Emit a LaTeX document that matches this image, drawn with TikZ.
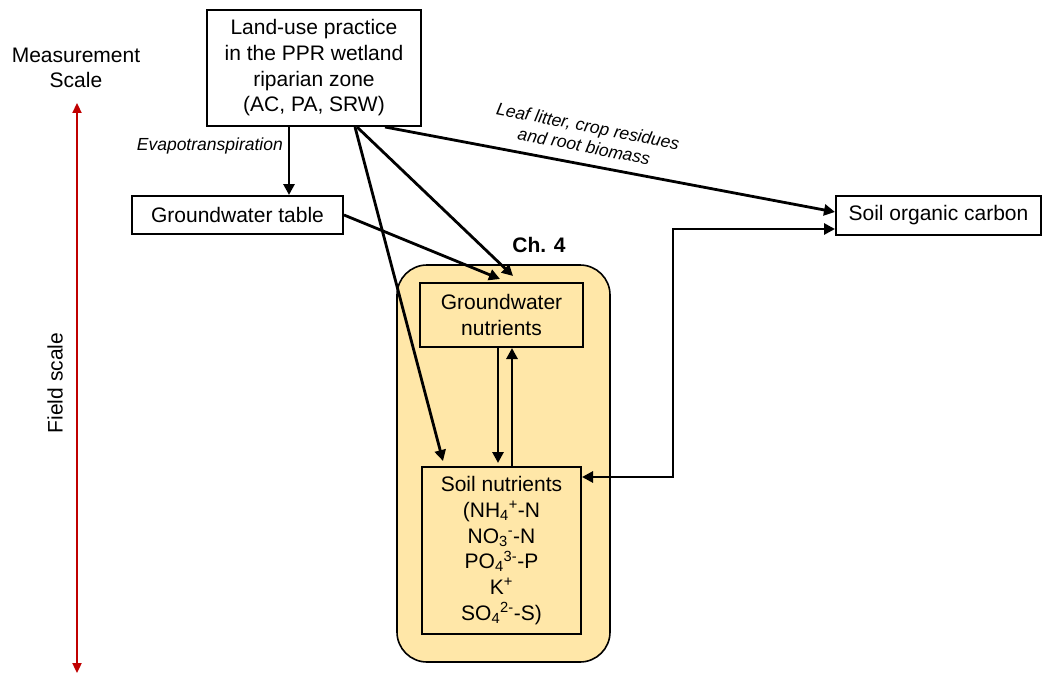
\documentclass[tikz,border=0pt]{standalone}
\usepackage{fontspec}
\setmainfont{Liberation Sans}
\usetikzlibrary{arrows.meta}
\definecolor{chfill}{RGB}{255,231,168}
\definecolor{scalered}{RGB}{192,0,0}
\begin{document}
\begin{tikzpicture}[x=1pt,y=-1pt,
  box/.style={draw, line width=2pt, align=center, inner sep=0pt,
    font=\fontsize{21}{25.7}\selectfont},
  plain/.style={align=center, inner sep=0pt, font=\fontsize{21}{25}\selectfont},
  flowlabel/.style={align=center, inner sep=0pt,
    font=\fontsize{17.5}{20.5}\selectfont\itshape},
  arr/.style={line width=2.8pt, -{Triangle[length=11pt,width=11pt]}},
  dblarr/.style={line width=2.8pt, {Triangle[length=11pt,width=11pt]}-{Triangle[length=11pt,width=11pt]}},
  chapter/.style={draw, line width=1.6pt, fill=chfill, rounded corners=30pt}
]
\useasboundingbox (0,0) rectangle (1043,674);

% measurement scale axis
\node[plain] (mscale) at (76,68) {Measurement\\Scale};
\coordinate (scaletop) at (77,103);
\coordinate (scalebot) at (77,673);
\draw[line width=2.3pt, scalered, {Triangle[length=10pt,width=9pt]}-{Triangle[length=10pt,width=9pt]}]
  (scaletop) -- (scalebot);
\node[plain, rotate=90] (field) at (55,383) {Field scale};

% chapter 4 panel
\node[chapter, minimum width=213pt, minimum height=397pt] (ch4) at (503.5,463.5) {};
\node[plain, font=\fontsize{21}{25}\selectfont\bfseries] (chlabel) at (539,245) {Ch. 4};

% boxes
\node[box, minimum width=214pt, minimum height=116pt] (land) at (314,68)
  {Land-use practice\\in the PPR wetland\\riparian zone\\(AC, PA, SRW)};
\node[box, minimum width=211pt, minimum height=38pt] (gwt) at (237.5,215) {Groundwater table};
\node[box, fill=white, minimum width=205pt, minimum height=39pt] (soc) at (938.5,215.5) {Soil organic carbon};
\node[box, minimum width=163pt, minimum height=64pt] (gwn) at (501.5,315) {Groundwater\\nutrients};
\node[box, minimum width=159pt, minimum height=167pt] (sn) at (501.5,550.5)
  {Soil nutrients\\(NH\textsubscript{4}\textsuperscript{+}-N\\NO\textsubscript{3}\textsuperscript{-}-N\\
   PO\textsubscript{4}\textsuperscript{3-}-P\\K\textsuperscript{+}\\SO\textsubscript{4}\textsuperscript{2-}-S)};

% flows
\draw[arr] ([xshift=-25pt]land.south) -- ([xshift=-25pt]land.south |- gwt.north);
\node[flowlabel, anchor=east] (evap) at (283,146) {Evapotranspiration};

\draw[arr] ([xshift=71pt]land.south) -- ([yshift=3.5pt]soc.west);
\node[flowlabel, rotate=-11] (litter) at (586,136) {Leaf litter, crop residues\\and root biomass};

\draw[arr] ([xshift=43pt]land.south) -- ([xshift=11.5pt,yshift=6pt]gwn.north);
\draw[arr] ([xshift=41pt]land.south) -- ([xshift=-58.5pt,yshift=5pt]sn.north);
\draw[arr] (gwt.east) -- ([xshift=-1.5pt,yshift=3pt]gwn.north);

\draw[arr] ([xshift=-3.5pt]gwn.south) -- ([xshift=-3.5pt,yshift=3pt]sn.north);
\draw[arr] ([xshift=10.5pt]sn.north) -- ([xshift=10.5pt]gwn.south);

\coordinate (elbow) at (673,477);
\draw[dblarr] ([yshift=-13.5pt]soc.west) -| (elbow) -- (elbow -| sn.east);
\end{tikzpicture}
\end{document}
